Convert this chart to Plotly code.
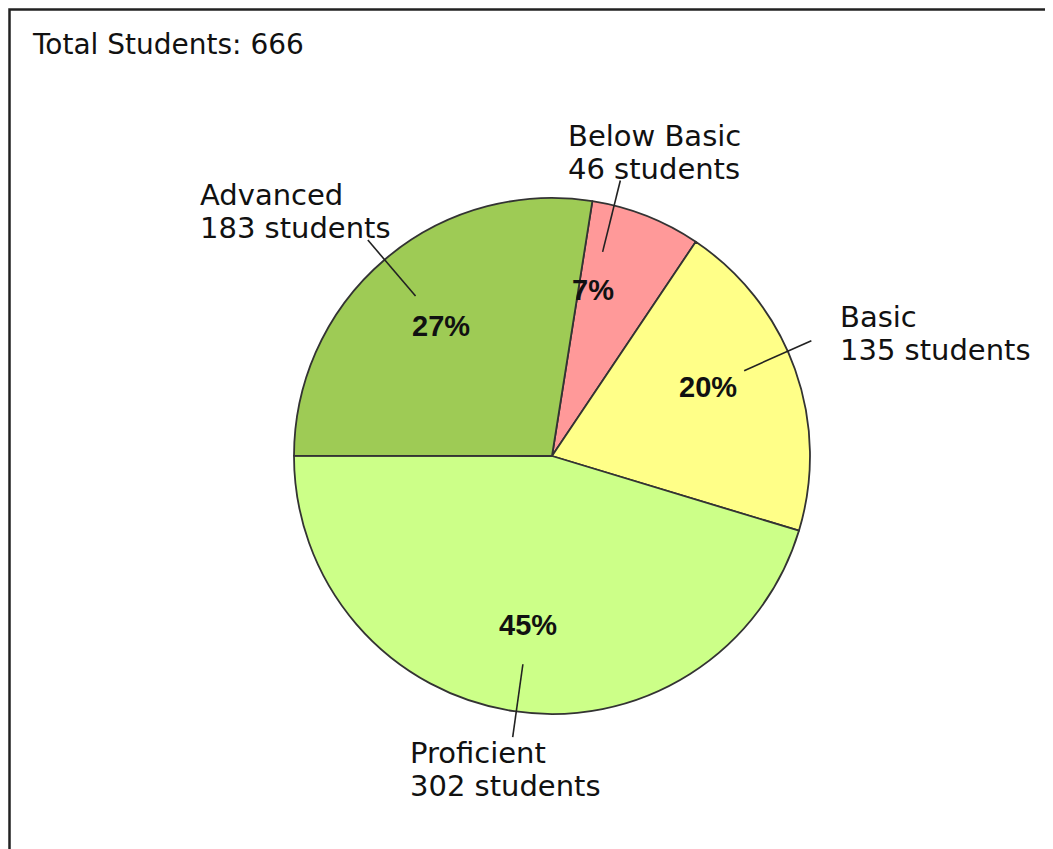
import math
import plotly.graph_objects as go

# ---- data ----
categories = ["Below Basic", "Basic", "Proficient", "Advanced"]
students = [46, 135, 302, 183]
colors = ["#FF9999", "#FFFF88", "#CCFF88", "#9ECB55"]
title_text = "Total Students: 666"

# ---- layout constants (pixels, in screenshot coordinates) ----
W, H = 1053, 849
OFF = 8  # page body margin
CX, CY, R = 552, 456, 258
ROT = 9
# label placement (style): left x, y of first line, y of second line
label_pos = {
    "Below Basic": (566, 134, 167),
    "Basic": (838, 315, 348),
    "Proficient": (408, 751, 784),
    "Advanced": (198, 193, 226),
}
angle_nudge = {"Below Basic": -7.5, "Basic": -4.3, "Proficient": -0.5, "Advanced": 0.0}
PCT_D = 0.663
LINE_IN, LINE_OUT = 0.815, 1.10


def px(x):
    return (x - OFF) / W


def py(y):
    return 1 - (y - OFF) / H


total = sum(students)

fig = go.Figure(
    go.Pie(
        labels=categories,
        values=students,
        marker=dict(colors=colors, line=dict(color="#333333", width=1.8)),
        sort=False,
        direction="clockwise",
        rotation=ROT,
        textinfo="none",
        hoverinfo="label+value+percent",
        showlegend=False,
        domain=dict(x=[px(CX - R), px(CX + R)], y=[py(CY + R), py(CY - R)]),
    )
)

annotations = []
shapes = []

start = ROT
for cat, v in zip(categories, students):
    span = v / total * 360
    mid = start + span / 2 + angle_nudge[cat]
    start += span
    a = math.radians(mid)
    sx, sy = math.sin(a), -math.cos(a)
    # percent label
    tx, ty = CX + PCT_D * R * sx, CY + PCT_D * R * sy
    annotations.append(dict(
        x=px(tx), y=py(ty), xref="paper", yref="paper",
        text=f"{round(100 * v / total)}%", showarrow=False,
        xanchor="center", yanchor="middle",
        font=dict(family="Liberation Sans", size=29, color="#111111", weight="bold"),
    ))
    # leader line
    shapes.append(dict(
        type="line", xref="paper", yref="paper",
        x0=px(CX + LINE_IN * R * sx), y0=py(CY + LINE_IN * R * sy),
        x1=px(CX + LINE_OUT * R * sx), y1=py(CY + LINE_OUT * R * sy),
        line=dict(color="#222222", width=1.6),
    ))
    # outer label (two lines)
    lx, ly1, ly2 = label_pos[cat]
    for txt, yy in ((cat, ly1), (f"{v} students", ly2)):
        annotations.append(dict(
            x=px(lx), y=py(yy + 2), xref="paper", yref="paper",
            text=txt, showarrow=False, xanchor="left", yanchor="middle",
            font=dict(family="DejaVu Sans", size=29, color="#111111"),
        ))

annotations.append(dict(
    x=px(30), y=py(45), xref="paper", yref="paper",
    text=title_text, showarrow=False, xanchor="left", yanchor="middle",
    font=dict(family="DejaVu Sans", size=28, color="#111111"),
))

shapes.append(dict(
    type="rect", xref="paper", yref="paper",
    x0=px(9.5), y0=py(9.5), x1=px(W + 40), y1=py(H + 40),
    line=dict(color="#222222", width=2.5),
))

fig.update_layout(
    width=W, height=H,
    margin=dict(l=0, r=0, t=0, b=0),
    paper_bgcolor="white", plot_bgcolor="white",
    annotations=annotations, shapes=shapes,
)

fig.write_html("out.html")
